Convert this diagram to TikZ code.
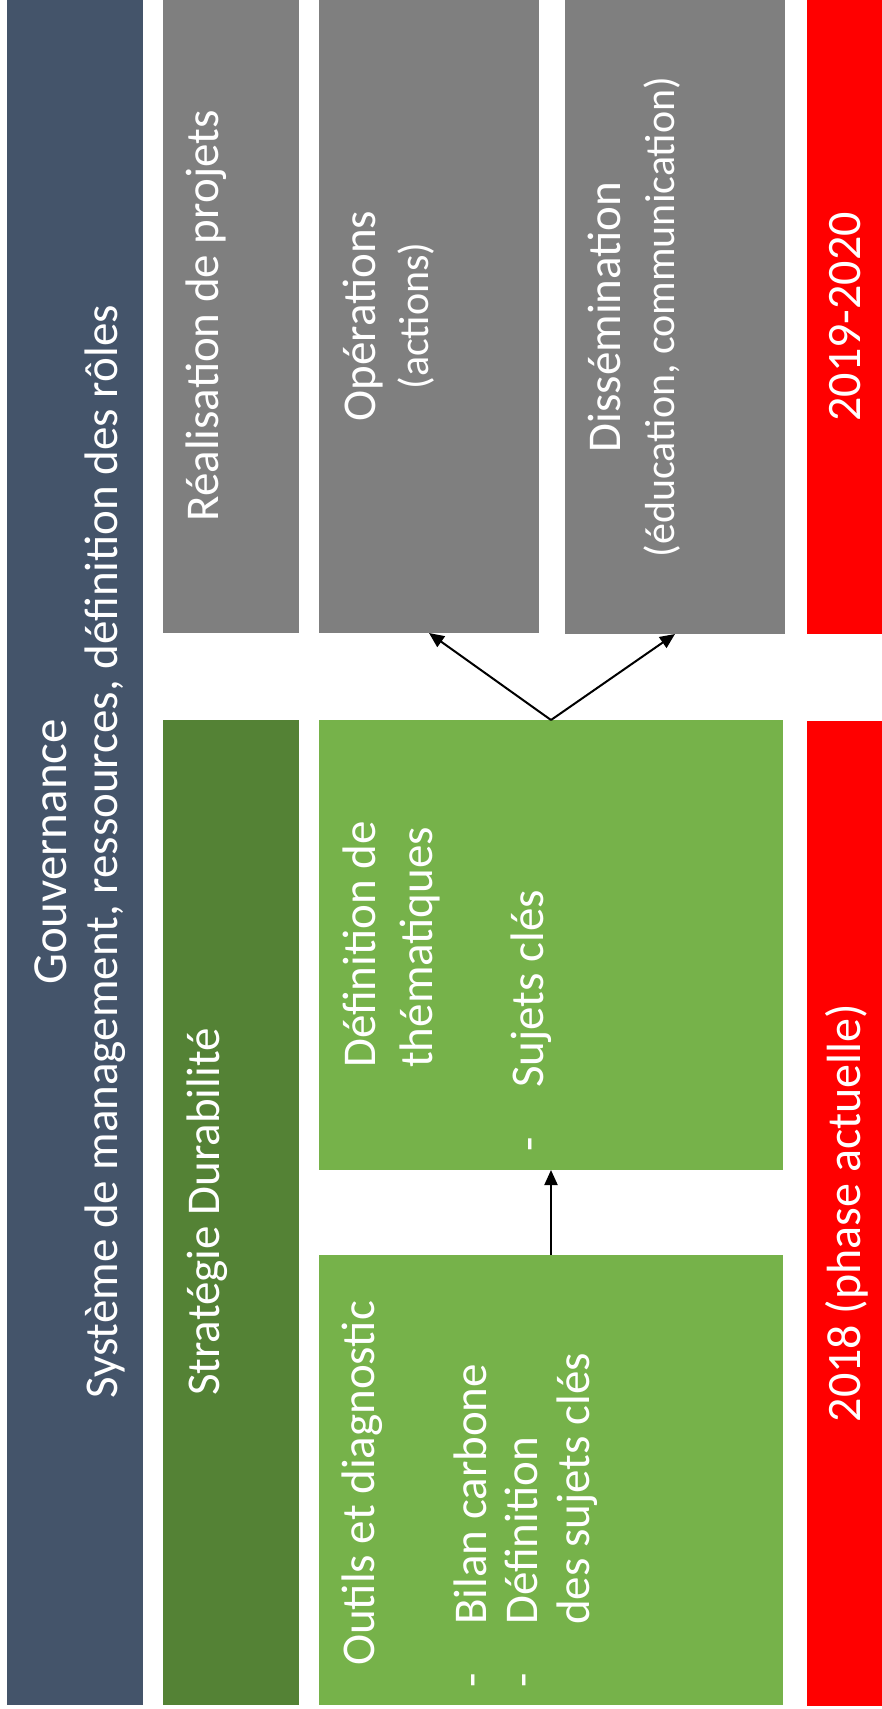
\documentclass[tikz,border=0pt]{standalone}
\usepackage{fontspec}
\setmainfont{Carlito}
\usetikzlibrary{arrows.meta,fit}
\definecolor{govblue}{RGB}{68,84,106}
\definecolor{phasegrey}{RGB}{127,127,127}
\definecolor{stratgreen}{RGB}{84,130,53}
\definecolor{taskgreen}{RGB}{118,178,74}
\definecolor{phasered}{RGB}{255,0,0}
\newcommand{\bigtxt}{\fontsize{47}{56}\selectfont}
\newcommand{\subtxt}{\fontsize{42}{50}\selectfont}
\newcommand{\yeartxt}{\fontsize{48}{58}\selectfont}

\begin{document}
\begin{tikzpicture}[x=1pt, y=-1pt,
    blk/.style={inner sep=0pt, outer sep=0pt},
    lbl/.style={text=white, rotate=90, inner sep=0pt, anchor=base, font=\bigtxt},
    lbll/.style={lbl, anchor=base west},
    conn/.style={line width=2pt, -{Triangle[length=15pt,width=13pt]}}]
    \useasboundingbox (0,0) rectangle (882,1709);

    % columns
    \node[blk, fill=govblue, fit={(7,0) (143,1705)}] (gov) {};
    \node[blk, fill=phasegrey, fit={(163,0) (299,633)}] (real) {};
    \node[blk, fill=phasegrey, fit={(319,0) (539,633)}] (oper) {};
    \node[blk, fill=phasegrey, fit={(565,0) (785,634)}] (diss) {};
    \node[blk, fill=phasered, fit={(807,0) (882,634)}] (later) {};
    \node[blk, fill=stratgreen, fit={(163,720) (299,1705)}] (strat) {};
    \node[blk, fill=taskgreen, fit={(319,720) (783,1170)}] (them) {};
    \node[blk, fill=taskgreen, fit={(319,1255) (783,1705)}] (outil) {};
    \node[blk, fill=phasered, fit={(807,721) (882,1706)}] (now) {};

    % texts
    \node[lbl, font=\fontsize{49}{58}\selectfont] (gov-a) at (66,852) {Gouvernance};
    \node[lbl] (gov-b) at (117,852) {Système de management, ressources, définition des rôles};
    \node[lbl] (real-a) at (218,316) {Réalisation de projets};
    \node[lbl] (oper-a) at (375,316) {Opérations};
    \node[lbl, font=\subtxt] (oper-b) at (428,316) {(actions)};
    \node[lbl] (diss-a) at (620,317) {Dissémination};
    \node[lbl, font=\subtxt] (diss-b) at (674,317) {(éducation, communication)};
    \node[lbl] (strat-a) at (219,1212) {Stratégie Durabilité};
    \node[lbll] (them-a) at (375,1068) {Définition de};
    \node[lbll] (them-b) at (432,1068) {thématiques};
    \node[lbll] (them-d) at (543,1152) {-};
    \node[lbll] (them-c) at (543,1088) {Sujets clés};
    \node[lbll] (outil-a) at (374,1666) {Outils et diagnostic};
    \node[lbll] (outil-d1) at (486,1688) {-};
    \node[lbll] (outil-b) at (486,1625) {Bilan carbone};
    \node[lbll] (outil-d2) at (537,1688) {-};
    \node[lbll] (outil-c) at (537,1625) {Définition};
    \node[lbll] (outil-e) at (589,1625) {des sujets clés};
    \node[lbl, font=\yeartxt] (later-a) at (860,317) {2019-2020};
    \node[lbl, font=\yeartxt] (now-a) at (860,1213) {2018 (phase actuelle)};

    % arrows
    \draw[conn] (outil.north) -- (them.south);
    \draw[conn] (them.north) -- (oper.south);
    \draw[conn] (them.north) -- (diss.south);
\end{tikzpicture}
\end{document}
